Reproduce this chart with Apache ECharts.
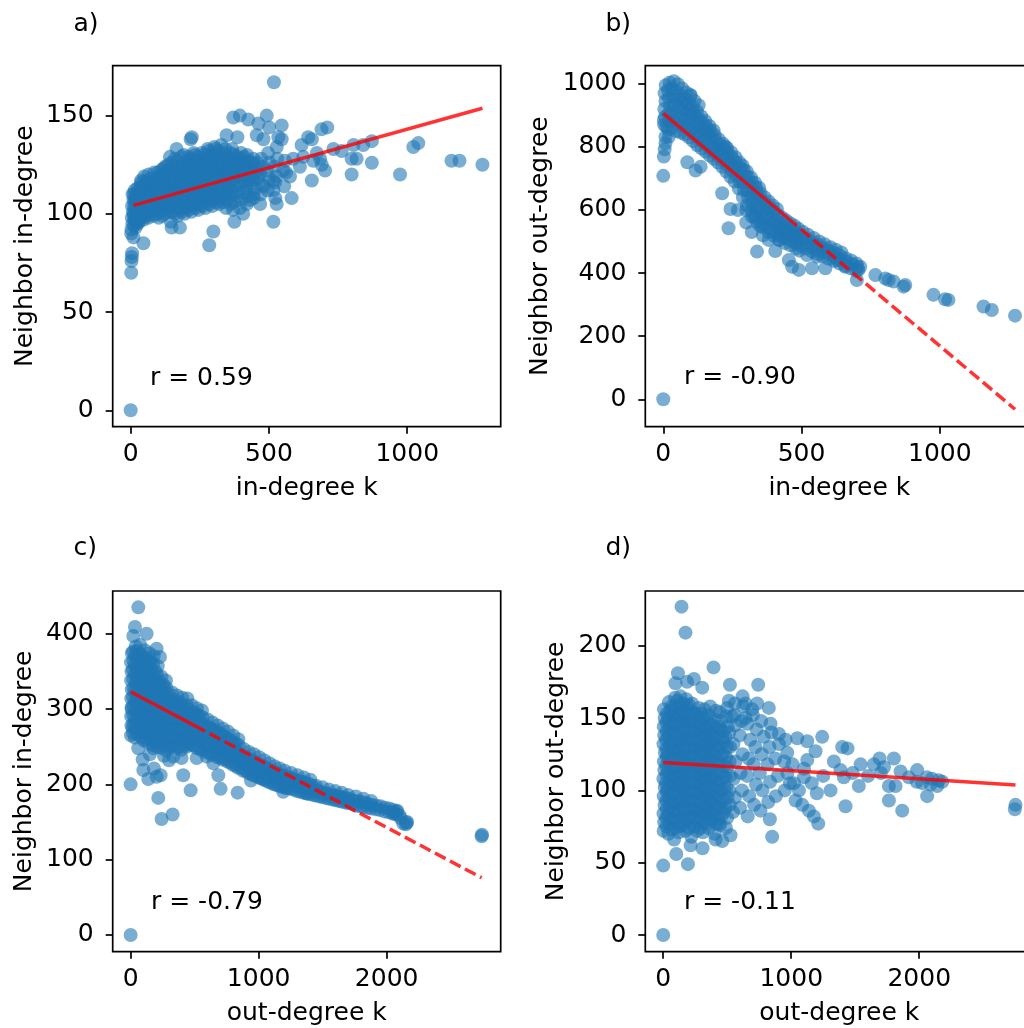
<!DOCTYPE html>
<html><head><meta charset="utf-8">
<script src="https://cdn.jsdelivr.net/npm/echarts@6/dist/echarts.min.js"></script>
<style>html,body{margin:0;padding:0;background:#fff}#c{width:1024px;height:1028px}</style>
</head><body><div id="c"></div>
<script>
// ---------- DATA ----------
// panel a: in-degree k vs neighbor in-degree
const pointsA = [
[3,92],[6,95],[4,98],[8,101],[5,104],[10,107],[7,110],[2,90],[12,99],
[18,93],[16,97],[20,100],[17,103],[22,106],[19,109],[15,112],[24,96],
[30,96],[34,99],[31,102],[36,105],[33,108],[29,111],[35,114],[38,117],
[46,97],[50,100],[45,103],[52,106],[48,109],[44,112],[51,115],[49,119],
[64,98],[68,101],[63,104],[70,107],[66,110],[62,113],[69,116],[65,120],
[82,99],[88,102],[84,105],[90,108],[86,111],[81,114],[89,117],[85,121],
[102,98],[107,101],[104,104],[109,107],[103,110],[108,113],[101,116],[106,119],[110,122],
[122,100],[128,103],[124,106],[130,109],[121,112],[127,115],[123,118],[129,121],[125,124],
[145,96],[150,101],[147,104],[152,107],[144,110],[149,113],[153,116],[146,119],[151,122],[148,126],[142,129],
[170,99],[175,102],[168,105],[177,108],[172,111],[169,114],[176,117],[171,120],[174,123],[167,127],
[195,100],[200,103],[193,106],[202,109],[197,112],[194,115],[201,118],[196,121],[199,124],[203,127],[192,130],
[220,101],[225,104],[218,107],[227,110],[222,113],[219,116],[226,119],[221,122],[224,125],[217,128],[228,131],
[245,102],[250,105],[243,108],[252,111],[247,114],[244,117],[251,120],[246,123],[249,126],[242,129],
[270,103],[275,106],[268,109],[277,112],[272,115],[269,118],[276,121],[271,124],[274,127],[267,130],[278,133],
[295,104],[300,107],[293,110],[302,113],[297,116],[294,119],[301,122],[296,125],[299,128],[292,131],[303,134],
[320,105],[325,108],[318,111],[327,114],[322,117],[319,120],[326,123],[321,126],[324,129],[317,132],[328,135],
[345,103],[350,107],[343,111],[352,114],[347,117],[344,120],[351,123],[346,126],[349,129],[342,133],
[370,102],[375,106],[368,110],[377,114],[372,118],[369,121],[376,124],[371,127],[374,130],[367,133],
[395,103],[400,107],[393,111],[402,115],[397,119],[394,122],[401,125],[396,128],[399,131],
[420,105],[425,109],[418,113],[427,117],[422,121],[419,124],[426,127],[421,130],
[445,108],[450,113],[443,117],[452,121],[447,125],[444,128],
[470,110],[475,115],[468,120],[477,124],[472,128],
[495,112],[500,118],[493,122],[502,126],[497,131],
[523,108],[528,119],[520,124],[530,128],
[555,114],[562,121],[558,127],
[12,94],[14,97],[11,100],[13,104],[15,107],[12,110],
[26,95],[27,98],[25,101],[28,104],[26,107],[27,110],[25,113],
[40,98],[42,101],[39,104],[41,107],[43,110],[40,113],[38,116],
[57,99],[56,102],[58,105],[55,108],[59,111],[57,114],[56,117],
[75,100],[77,103],[74,106],[76,109],[78,112],[73,115],[75,118],
[95,100],[96,103],[94,106],[97,109],[93,112],[96,115],[95,118],[97,121],
[115,99],[116,102],[114,105],[117,108],[113,111],[116,114],[115,117],[114,120],[117,123],
[137,101],[136,104],[138,107],[135,110],[139,113],[137,116],[136,119],[138,122],[135,125],
[160,100],[161,103],[159,106],[162,109],[158,112],[161,115],[160,118],[159,121],[162,124],[160,128],
[185,101],[186,104],[184,107],[187,110],[183,113],[186,116],[185,119],[184,122],[187,125],[183,129],
[210,102],[211,105],[209,108],[212,111],[208,114],[211,117],[210,120],[209,123],[212,126],[208,129],
[235,103],[236,106],[234,109],[237,112],[233,115],[236,118],[235,121],[234,124],[237,127],[233,130],
[260,104],[261,107],[259,110],[262,113],[258,116],[261,119],[260,122],[259,125],[262,128],[258,131],
[285,105],[286,108],[284,111],[287,114],[283,117],[286,120],[285,123],[284,126],[287,129],[283,132],
[310,106],[311,109],[309,112],[312,115],[308,118],[311,121],[310,124],[309,127],[312,130],[308,133],
[335,106],[336,109],[334,112],[337,116],[333,119],[336,122],[335,125],[334,128],[337,131],
[360,105],[361,109],[359,112],[362,116],[358,119],[361,122],[360,125],[359,128],[362,131],
[385,109],[386,116],[384,120],[387,123],[383,126],[386,129],
[410,111],[411,117],[409,120],[412,123],[408,126],[411,129],
[435,115],[436,119],[434,123],[437,126],
[460,118],[461,122],[459,126],
[0,0],[2,70],[3,76],[4,78],[5,80],[10,88],[46,85],[148,93],[178,93],[284,84],[299,91],[375,96],[516,96],[582,108],
[166,133],[217,138],[221,139],[347,140],[371,149],[386,139],[395,150],[425,148],[456,140],[462,146],[480,138],[492,150],
[501,144],[518,167],[528,134],[534,139],[546,145],[546,138],[552,122],[576,119],[588,128],[612,124],[618,135],[624,129],
[642,139],[655,138],[655,117],[660,127],[673,131],[685,128],[690,143],[691,125],[703,122],[711,144],[733,133],[763,132],
[799,128],[799,120],[806,135],[817,128],[841,135],[872,137],[872,126],[974,120],[1022,134],[1040,136],[1160,127],
[1189,127],[1272,125],[516,117],[516,112],[480,114],[444,110],[407,100],[468,105],[432,107],[528,105],[522,116]
];
// panel b: in-degree k vs neighbor out-degree
const pointsB = [
[3,870],[6,895],[4,920],[8,945],[5,970],[9,995],
[18,855],[22,880],[19,905],[24,930],[20,955],[17,980],[23,1003],
[33,860],[37,885],[34,910],[39,935],[36,960],[32,985],[38,1008],
[48,850],[52,875],[49,900],[54,925],[51,950],[47,975],[53,998],
[63,845],[67,868],[64,892],[69,916],[66,940],[62,963],[68,985],
[78,840],[82,862],[79,885],[84,908],[81,930],[77,952],[83,972],
[93,830],[97,852],[94,875],[99,897],[96,918],[92,940],[98,962],
[108,818],[112,840],[109,862],[114,884],[111,905],[107,925],[113,945],
[123,805],[127,827],[124,849],[129,870],[126,890],[122,912],[128,932],
[138,795],[142,815],[139,836],[144,856],[141,877],[137,897],
[153,785],[157,805],[154,825],[159,845],[156,864],[152,882],
[168,772],[172,792],[169,812],[174,832],[171,850],[167,866],
[183,762],[187,781],[184,800],[189,819],[186,837],[182,852],
[198,750],[202,769],[199,788],[204,806],[201,823],
[213,737],[217,756],[214,775],[219,793],[216,810],
[228,722],[232,742],[229,761],[234,779],[231,796],
[243,705],[247,726],[244,746],[249,765],[246,782],
[258,690],[262,710],[259,730],[264,749],[261,767],
[273,668],[277,690],[274,711],[279,731],[276,750],
[288,640],[292,663],[289,685],[294,706],[291,727],[287,740],
[303,615],[307,640],[304,662],[309,684],[306,704],[302,722],
[318,598],[322,622],[319,645],[324,666],[321,686],[317,703],
[333,582],[337,606],[334,628],[339,650],[336,670],[332,686],
[348,566],[352,590],[349,612],[354,633],[351,653],[347,670],
[363,555],[367,578],[364,600],[369,620],[366,640],
[378,545],[382,567],[379,588],[384,608],[381,627],
[393,535],[397,556],[394,576],[399,596],[396,614],
[408,527],[412,547],[409,566],[414,585],[411,603],
[423,520],[427,540],[424,558],[429,576],
[438,513],[442,532],[439,550],[444,567],
[453,506],[457,524],[454,542],[459,558],
[468,500],[472,517],[469,533],[474,550],
[483,493],[487,509],[484,525],[489,540],
[498,486],[502,502],[499,517],[504,531],
[518,478],[522,493],[519,508],[524,521],
[538,468],[542,483],[539,498],[544,511],
[558,460],[562,474],[559,488],[564,500],
[578,453],[582,466],[579,479],[584,491],
[598,445],[602,458],[599,471],[604,482],
[618,438],[622,450],[619,463],[624,474],
[638,430],[642,442],[639,455],[644,465],
[658,423],[662,435],[659,447],
[678,415],[682,428],[679,440],
[698,406],[702,419],[699,430],
[300,600],[320,580],[340,560],[360,545],[380,530],[400,518],[420,505],[440,495],[460,488],[480,478],[350,550],[330,575],
[0,0],[0,708],[2,769],[5,792],[8,811],[8,832],[11,864],[2,885],[20,832],[87,751],[117,725],[135,737],
[213,653],[243,603],[236,542],[339,468],[381,505],[418,505],[454,441],[466,420],[490,410],[538,415],[586,415],
[492,471],[520,457],[556,452],[628,441],[658,420],[700,378],[706,410],[712,420],[767,394],[803,383],[815,378],
[833,373],[875,362],[869,357],[977,331],[1019,317],[1031,315],[1158,294],[1188,283],[1272,265],
[99,964],[225,800],[270,600],[300,560],[320,530],[360,520],[405,470]
];
// panel c: out-degree k vs neighbor in-degree
const pointsC = [
[3,265],[6,278],[4,290],[8,302],[5,314],[9,326],[4,338],[7,350],[3,362],[10,374],
[33,262],[37,275],[34,287],[39,299],[36,311],[32,323],[38,335],[35,347],[31,359],[36,371],[40,383],
[68,265],[72,277],[69,289],[74,301],[71,313],[67,325],[73,337],[70,349],[66,361],[72,373],[75,385],
[103,258],[107,270],[104,282],[109,294],[106,306],[102,318],[108,330],[105,342],[101,354],[107,366],[110,378],
[138,255],[142,267],[139,279],[144,291],[141,303],[137,315],[143,327],[140,339],[136,351],[142,363],[145,374],
[173,252],[177,264],[174,276],[179,288],[176,300],[172,312],[178,324],[175,336],[171,348],[177,360],[180,370],
[208,250],[212,262],[209,274],[214,286],[211,298],[207,310],[213,322],[210,334],[206,346],[212,357],
[243,248],[247,260],[244,272],[249,284],[246,296],[242,308],[248,320],[245,332],[241,343],
[278,245],[282,257],[279,269],[284,281],[281,293],[277,305],[283,317],[280,328],[276,338],
[318,250],[322,262],[319,274],[324,286],[321,298],[317,310],[323,322],
[358,248],[362,260],[359,272],[364,284],[361,296],[357,308],[363,318],
[398,246],[402,258],[399,270],[404,282],[401,294],[397,305],[403,315],
[438,250],[442,261],[439,272],[444,283],[441,294],[437,305],[443,314],
[478,252],[482,262],[479,273],[484,284],[481,295],[477,305],
[518,248],[522,259],[519,270],[524,281],[521,292],[517,301],
[558,245],[562,256],[559,267],[564,278],[561,289],[557,298],
[598,242],[602,253],[599,264],[604,275],[601,286],
[638,239],[642,250],[639,261],[644,272],[641,282],
[678,236],[682,247],[679,258],[684,268],[681,278],
[718,233],[722,244],[719,254],[724,264],[721,274],
[758,230],[762,240],[759,250],[764,260],[761,270],
[798,226],[802,236],[799,246],[804,256],[801,265],
[838,222],[842,232],[839,242],[844,252],[841,260],
[878,218],[882,228],[879,238],[884,247],
[918,215],[922,225],[919,234],[924,243],
[958,212],[962,222],[959,231],[964,240],
[998,209],[1002,218],[999,227],[1004,236],
[1038,206],[1042,215],[1039,224],[1044,232],
[1078,203],[1082,212],[1079,220],[1084,228],
[1118,200],[1122,209],[1119,217],[1124,224],
[1158,198],[1162,206],[1159,214],[1164,221],
[1198,196],[1202,204],[1199,211],[1204,218],
[1248,194],[1252,201],[1249,208],[1254,215],
[1298,191],[1302,198],[1299,205],[1304,212],
[1348,189],[1352,196],[1349,203],[1354,209],
[1398,187],[1402,193],[1399,200],[1404,206],
[1448,185],[1452,191],[1449,198],
[1498,183],[1502,189],[1499,196],
[1548,181],[1552,187],[1549,193],
[1598,179],[1602,185],[1599,191],
[1648,177],[1652,183],[1649,189],
[1698,175],[1702,181],[1699,186],
[1758,172],[1762,178],[1759,184],
[1818,170],[1822,176],[1819,181],
[1878,168],[1882,173],[1879,178],
[1948,166],[1952,171],
[2018,163],[2022,168],
[2078,160],[2082,165],
[20,268],[22,280],[19,292],[21,304],[18,316],[23,328],[20,340],[17,352],[22,364],[19,376],
[52,268],[54,281],[51,293],[53,305],[50,317],[55,329],[52,341],[49,353],[54,365],[51,377],
[88,262],[90,274],[87,286],[89,298],[86,310],[91,322],[88,334],[85,346],[90,358],[87,370],
[122,261],[124,273],[121,285],[123,297],[120,309],[125,321],[122,333],[119,345],[124,357],[121,368],
[158,258],[160,270],[157,282],[159,294],[156,306],[161,318],[158,330],[155,342],[160,354],[157,364],
[192,256],[194,268],[191,280],[193,292],[190,304],[195,316],[192,328],[189,340],[194,350],
[228,254],[230,266],[227,278],[229,290],[226,302],[231,314],[228,326],[225,337],
[262,251],[264,263],[261,275],[263,287],[260,299],[265,311],[262,322],[259,332],
[300,250],[302,262],[299,274],[301,286],[298,298],[303,310],[300,320],
[340,252],[342,264],[339,276],[341,288],[338,300],[343,312],
[380,250],[382,262],[379,274],[381,286],[378,298],[383,309],
[420,252],[422,264],[419,276],[421,288],[418,300],
[460,254],[462,266],[459,278],[461,289],[458,299],
[500,252],[502,263],[499,274],[501,285],[498,295],
[540,248],[542,259],[539,270],[541,281],[538,291],
[580,246],[582,257],[579,268],[581,279],
[620,242],[622,253],[619,264],[621,275],
[660,240],[662,251],[659,262],[661,272],
[700,236],[702,247],[699,258],[701,268],
[740,233],[742,243],[739,253],[741,263],
[780,229],[782,239],[779,249],[781,258],
[820,225],[822,235],[819,245],[821,254],
[860,222],[862,231],[859,240],
[900,218],[902,227],[899,236],
[940,214],[942,223],[939,232],
[980,211],[982,220],[979,228],
[1020,208],[1022,216],[1019,224],
[1060,205],[1062,213],[1059,221],
[1100,202],[1102,210],[1099,218],
[1140,199],[1142,207],[1139,214],
[1180,197],[1182,205],[1179,212],
[1225,195],[1227,203],[1224,210],
[1275,193],[1277,200],[1274,207],
[1325,190],[1327,197],[1324,204],
[1375,188],[1377,195],[1374,201],
[1425,186],[1427,192],[1424,198],
[1475,184],[1477,190],[1525,182],[1527,188],[1575,180],[1577,186],[1625,178],[1627,184],
[1675,176],[1677,182],[1730,174],[1732,179],[1790,171],[1792,177],[1850,169],[1852,174],
[1915,167],[1917,172],[1985,164],[1987,169],[2050,161],[2052,166],[2100,159],[2110,155],[2160,150],[2150,147],
[0,0],[0,200],[60,435],[34,409],[21,397],[125,400],[216,182],[242,154],[328,160],[94,233],[99,219],[138,207],
[182,221],[234,212],[203,210],[411,212],[469,192],[703,194],[836,189],[685,212],[646,228],[398,235],[333,237],
[516,235],[594,237],[1036,208],[1192,190],[1375,188],[2742,131],[2745,133],[2130,148],[2156,149],[2052,162],
[2078,164],[203,380],[229,369],[8,300],[15,275],[60,248],[150,240],[180,248],[260,238],[300,232],[1215,195],
[1460,192],[940,205]
];
// panel d: out-degree k vs neighbor out-degree
const pointsD = [
[3,72],[8,78],[2,84],[10,90],[4,96],[12,102],[1,108],[9,114],[5,120],[13,126],[2,132],[8,138],[4,144],[11,150],[6,156],
[40,70],[50,77],[38,83],[52,89],[44,95],[36,101],[54,107],[42,113],[48,119],[35,125],[53,131],[41,137],[47,143],[39,149],[55,155],[45,161],
[85,66],[95,74],[82,80],[98,86],[88,92],[80,98],[96,104],[86,110],[93,116],[81,122],[99,128],[87,134],[94,140],[83,146],[97,152],[89,158],[92,164],
[130,75],[140,81],[127,87],[143,93],[133,99],[125,105],[141,111],[131,117],[138,123],[126,129],[144,135],[132,141],[139,147],[128,153],[142,159],[135,165],
[175,72],[185,79],[172,85],[188,91],[178,97],[170,103],[186,109],[176,115],[183,121],[171,127],[189,133],[177,139],[184,145],[173,151],[187,157],[180,163],
[220,68],[230,76],[217,82],[233,88],[223,94],[215,100],[231,106],[221,112],[228,118],[216,124],[234,130],[222,136],[229,142],[218,148],[232,154],[225,160],
[265,72],[275,79],[262,85],[278,91],[268,97],[260,103],[276,109],[266,115],[273,121],[261,127],[279,133],[267,139],[274,145],[263,151],[277,157],
[310,71],[320,78],[307,84],[323,90],[313,96],[305,102],[321,108],[311,114],[318,120],[306,126],[324,132],[312,138],[319,144],[308,150],[322,156],
[355,74],[365,80],[352,86],[368,92],[358,98],[350,104],[366,110],[356,116],[363,122],[351,128],[369,134],[357,140],[364,146],[353,152],[367,158],
[400,70],[410,77],[397,83],[413,89],[403,95],[395,101],[411,107],[401,113],[408,119],[396,125],[414,131],[402,137],[409,143],[398,149],[412,155],
[445,76],[455,82],[442,88],[458,94],[448,100],[440,106],[456,112],[446,118],[453,124],[441,130],[459,136],[447,142],[454,148],[443,154],
[490,74],[500,81],[487,88],[503,95],[493,102],[485,109],[501,116],[491,123],[498,130],[486,137],[504,144],[492,151],[499,157],
[25,75],[22,81],[28,87],[24,93],[27,99],[21,105],[26,111],[23,117],[29,123],[25,129],[22,135],[27,141],[24,147],[28,153],
[68,73],[65,80],[71,86],[67,92],[70,98],[64,104],[69,110],[66,116],[72,122],[68,128],[65,134],[70,140],[67,146],[71,152],[66,158],
[112,78],[109,84],[115,90],[111,96],[114,102],[108,108],[113,114],[110,120],[116,126],[112,132],[109,138],[114,144],[111,150],[115,156],[110,162],
[158,76],[155,82],[161,88],[157,94],[160,100],[154,106],[159,112],[156,118],[162,124],[158,130],[155,136],[160,142],[157,148],[161,154],[156,160],
[202,74],[199,81],[205,87],[201,93],[204,99],[198,105],[203,111],[200,117],[206,123],[202,129],[199,135],[204,141],[201,147],[205,153],[200,159],
[248,75],[245,81],[251,87],[247,93],[250,99],[244,105],[249,111],[246,117],[252,123],[248,129],[245,135],[250,141],[247,147],[251,153],
[292,74],[289,81],[295,87],[291,93],[294,99],[288,105],[293,111],[290,117],[296,123],[292,129],[289,135],[294,141],[291,147],[295,153],
[338,77],[335,83],[341,89],[337,95],[340,101],[334,107],[339,113],[336,119],[342,125],[338,131],[335,137],[340,143],[337,149],
[382,79],[379,85],[385,91],[381,97],[384,103],[378,109],[383,115],[380,121],[386,127],[382,133],[379,139],[384,145],
[428,80],[425,88],[431,96],[427,104],[430,112],[424,120],[429,128],[426,136],[432,144],
[472,85],[469,93],[475,101],[471,109],[474,117],[468,125],[473,133],[470,141],
[520,90],[517,100],[523,110],[519,120],[522,130],[516,140],
[545,85],[560,95],[550,108],[565,120],[548,132],[562,145],[555,152],
[600,88],[615,100],[605,112],[620,125],[598,138],[612,148],[625,158],
[660,82],[672,96],[655,110],[668,122],[680,135],[658,146],
[710,90],[725,104],[705,118],[720,130],[730,142],[700,152],
[760,86],[775,100],[755,112],[770,125],[785,137],[765,148],
[820,92],[835,106],[815,118],[830,130],[845,140],
[880,96],[895,110],[875,122],[905,132],
[950,100],[970,112],[945,120],[990,105],[1010,118],
[0,0],[0,48],[143,227],[174,209],[393,185],[102,56],[193,49],[122,71],[521,173],[742,173],[305,171],[115,181],
[96,174],[240,177],[187,175],[825,157],[833,80],[851,68],[461,65],[409,66],[307,60],[214,62],[526,69],[435,77],
[1242,137],[1398,130],[1440,129],[1211,77],[1424,89],[1542,118],[1528,103],[1646,118],[1690,122],[1724,116],
[1802,122],[1763,103],[1815,103],[1763,93],[1867,86],[1854,113],[1919,109],[1984,114],[2023,105],[2062,96],
[2088,104],[2153,107],[2752,90],[2747,87],[1333,120],[1385,114],[1411,109],[1307,100],[1190,127],[1125,121],
[1099,109],[1060,100],[1034,93],[1086,90],[1138,86],[1177,82],[1021,105],[969,126],[1047,136],[1125,134],
[956,135],[904,139],[838,146],[734,160],[695,156],[643,150],[539,151],[513,162],[643,160],[620,165],[560,160],
[1100,115],[1160,105],[1250,110],[1200,98],[1480,112],[1600,110],[2100,108],[2180,106],[1980,106],[2060,109],
[1700,112],[2140,103]
];
// regression fits: slope, intercept, x range, x where dashing starts
const fitA = {slope: 0.0392, intercept: 103.9, x0: 10, x1: 1272, dashFrom: null};
const fitB = {slope: -0.737, intercept: 906, x0: 0, x1: 1272, dashFrom: 450};
const fitC = {slope: -0.0901, intercept: 323, x0: 0, x1: 2742, dashFrom: 500};
const fitD = {slope: -0.00567, intercept: 119.3, x0: 0, x1: 2752, dashFrom: null};

const panelLabels = ['a)', 'b)', 'c)', 'd)'];
const rTexts = ['r = 0.59', 'r = -0.90', 'r = -0.79', 'r = -0.11'];
const xNames = ['in-degree k', 'in-degree k', 'out-degree k', 'out-degree k'];
const yNames = ['Neighbor in-degree', 'Neighbor out-degree', 'Neighbor in-degree', 'Neighbor out-degree'];
const xTicks = [[0, 500, 1000], [0, 500, 1000], [0, 1000, 2000], [0, 1000, 2000]];
const yTicks = [[0, 50, 100, 150], [0, 200, 400, 600, 800, 1000], [0, 100, 200, 300, 400], [0, 50, 100, 150, 200]];

// ---------- LAYOUT ----------
const FONT = 'DejaVu Sans';
const FS = 25;
const grids = [
  {left: 112.7, top: 65.7, width: 388, height: 361},
  {left: 645.3, top: 65.7, width: 388, height: 361},
  {left: 112.7, top: 591, width: 388, height: 360.7},
  {left: 645.3, top: 591, width: 388, height: 360.7}
];
const xRanges = [[-65, 1338], [-65, 1338], [-140, 2891], [-140, 2891]];
const yRanges = [[-8.35, 175.4], [-86.8, 1057], [-22.2, 456.7], [-11.5, 237.8]];
const yNameGaps = [75, 92, 76, 76];

const allPoints = [pointsA, pointsB, pointsC, pointsD];
const fits = [fitA, fitB, fitC, fitD];
const plain = v => String(v);

const option = {
  animation: false,
  backgroundColor: '#fff',
  grid: grids.map(g => Object.assign({show: true, borderColor: '#000', borderWidth: 1.7,
    backgroundColor: 'transparent', containLabel: false, outerBoundsMode: 'none'}, g)),
  xAxis: grids.map((g, i) => ({
    gridIndex: i, type: 'value', min: xRanges[i][0], max: xRanges[i][1], position: 'bottom',
    name: xNames[i], nameLocation: 'middle', nameGap: 49,
    nameTextStyle: {fontFamily: FONT, fontSize: FS, color: '#000'},
    axisLine: {show: false, onZero: false}, splitLine: {show: false},
    axisTick: {show: true, inside: false, length: 7, customValues: xTicks[i], lineStyle: {color: '#000', width: 1.7}},
    axisLabel: {show: true, customValues: xTicks[i], formatter: plain, margin: 15, fontFamily: FONT, fontSize: FS, color: '#000'}
  })),
  yAxis: grids.map((g, i) => ({
    gridIndex: i, type: 'value', min: yRanges[i][0], max: yRanges[i][1], position: 'left',
    name: yNames[i], nameLocation: 'middle', nameGap: yNameGaps[i], nameRotate: 90,
    nameTextStyle: {fontFamily: FONT, fontSize: FS, color: '#000'},
    axisLine: {show: false, onZero: false}, splitLine: {show: false},
    axisTick: {show: true, inside: false, length: 7, customValues: yTicks[i], lineStyle: {color: '#000', width: 1.7}},
    axisLabel: {show: true, customValues: yTicks[i], formatter: plain, margin: 19, fontFamily: FONT, fontSize: FS, color: '#000'}
  })),
  graphic: [],
  series: []
};

allPoints.forEach((pts, i) => {
  option.series.push({
    type: 'scatter', xAxisIndex: i, yAxisIndex: i, data: pts, symbolSize: 14, silent: true, z: 2,
    itemStyle: {color: '#1f77b4', opacity: 0.6, borderWidth: 0}
  });
});
fits.forEach((f, i) => {
  const yAt = x => f.intercept + f.slope * x;
  const ls = {color: '#ff0000', width: 3.5, opacity: 0.8};
  if (f.dashFrom == null) {
    option.series.push({type: 'line', xAxisIndex: i, yAxisIndex: i, silent: true, z: 3, symbol: 'none',
      data: [[f.x0, yAt(f.x0)], [f.x1, yAt(f.x1)]], lineStyle: Object.assign({type: 'solid'}, ls)});
  } else {
    option.series.push({type: 'line', xAxisIndex: i, yAxisIndex: i, silent: true, z: 3, symbol: 'none',
      data: [[f.x0, yAt(f.x0)], [f.dashFrom, yAt(f.dashFrom)]], lineStyle: Object.assign({type: 'solid'}, ls)});
    option.series.push({type: 'line', xAxisIndex: i, yAxisIndex: i, silent: true, z: 3, symbol: 'none',
      data: [[f.dashFrom, yAt(f.dashFrom)], [f.x1, yAt(f.x1)]], lineStyle: Object.assign({type: [12, 5]}, ls)});
  }
});
const labelPos = [[73.5, 12], [605.5, 12], [73.5, 536], [605.5, 536]];
const rPos = [[150, 366], [684, 365], [151, 890], [684, 890]];
panelLabels.forEach((t, i) => {
  option.graphic.push({type: 'text', left: labelPos[i][0], top: labelPos[i][1], silent: true,
    style: {text: t, font: FS + 'px "' + FONT + '"', fill: '#000'}});
  option.graphic.push({type: 'text', left: rPos[i][0], top: rPos[i][1], silent: true,
    style: {text: rTexts[i], font: FS + 'px "' + FONT + '"', fill: '#000'}});
});

const chart = echarts.init(document.getElementById('c'), null, {renderer: 'canvas'});
chart.setOption(option);
</script>
</body></html>
